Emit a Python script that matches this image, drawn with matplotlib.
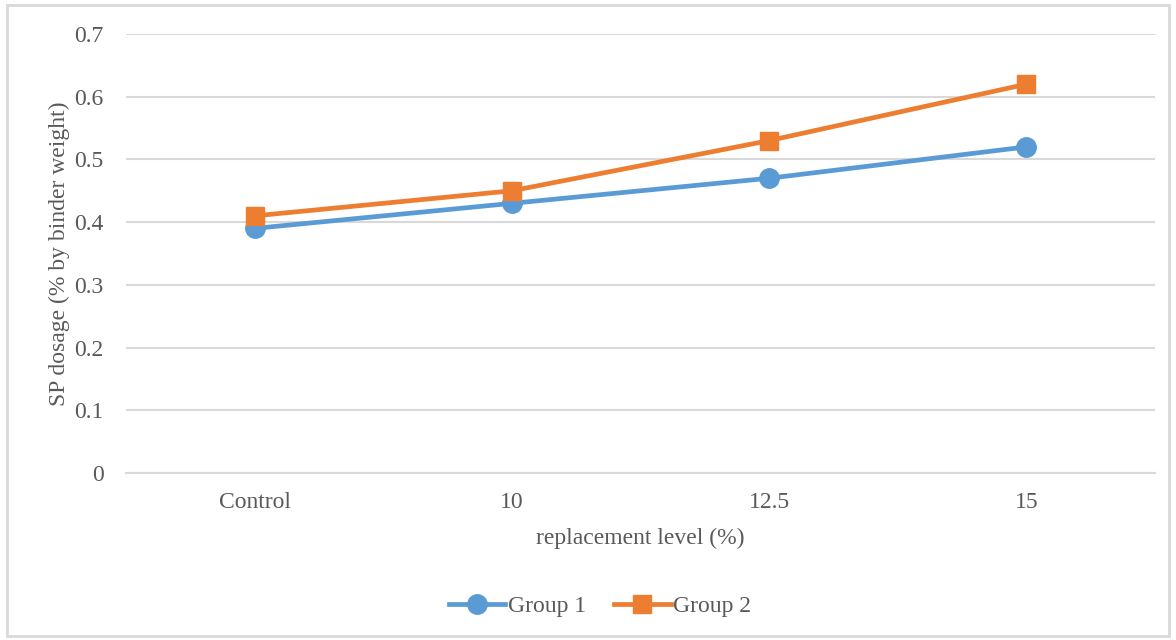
import matplotlib.pyplot as plt
from matplotlib.patches import Rectangle

categories = ['Control', '10', '12.5', '15']
group1 = [0.39, 0.43, 0.47, 0.52]
group2 = [0.41, 0.45, 0.53, 0.62]
yticks = [0, 0.1, 0.2, 0.3, 0.4, 0.5, 0.6, 0.7]

plt.rcParams['font.family'] = ['Liberation Serif', 'DejaVu Serif']
text_color = '#595959'
grid_color = '#d9d9d9'

fig = plt.figure(figsize=(11.76, 6.4), dpi=100)
ax = fig.add_axes([126 / 1176, 1 - 473 / 640, 1029 / 1176, 439 / 640])

x = range(len(categories))
ax.plot(x, group1, color='#5B9BD5', lw=3.4, marker='o', ms=14, label='Group 1')
ax.plot(x, group2, color='#ED7D31', lw=3.4, marker='s', ms=12.5, label='Group 2')

ax.set_xlim(-0.5, 3.5)
ax.set_ylim(0, 0.7)
ax.set_xticks(list(x))
ax.set_xticklabels(categories)
ax.set_yticks(yticks)
ax.set_yticklabels([f'{t:g}' for t in yticks])
ax.yaxis.grid(True, color=grid_color, lw=1.5)
ax.set_axisbelow(True)
for side in ['top', 'right', 'left']:
    ax.spines[side].set_visible(False)
ax.spines['bottom'].set_color(grid_color)
ax.spines['bottom'].set_linewidth(1.5)
ax.tick_params(axis='both', length=0, labelsize=17, colors=text_color)
ax.tick_params(axis='y', pad=16)
ax.tick_params(axis='x', pad=14)

ax.set_xlabel('replacement level (%)', fontsize=17, color=text_color, labelpad=10)
ax.set_ylabel('SP dosage (% by binder weight)', fontsize=17, color=text_color, labelpad=3)

fig.legend(loc='center', bbox_to_anchor=(0.51, 1 - 606 / 640), ncol=2, frameon=False,
           fontsize=17, labelcolor=text_color, handlelength=2.4, handletextpad=0.1,
           columnspacing=1.2)

fig.patches.append(Rectangle((7 / 1176, 4 / 640), 1162 / 1176, 631 / 640,
                             transform=fig.transFigure, fill=False,
                             edgecolor=grid_color, lw=2))

fig.savefig('out.png', dpi=100)
